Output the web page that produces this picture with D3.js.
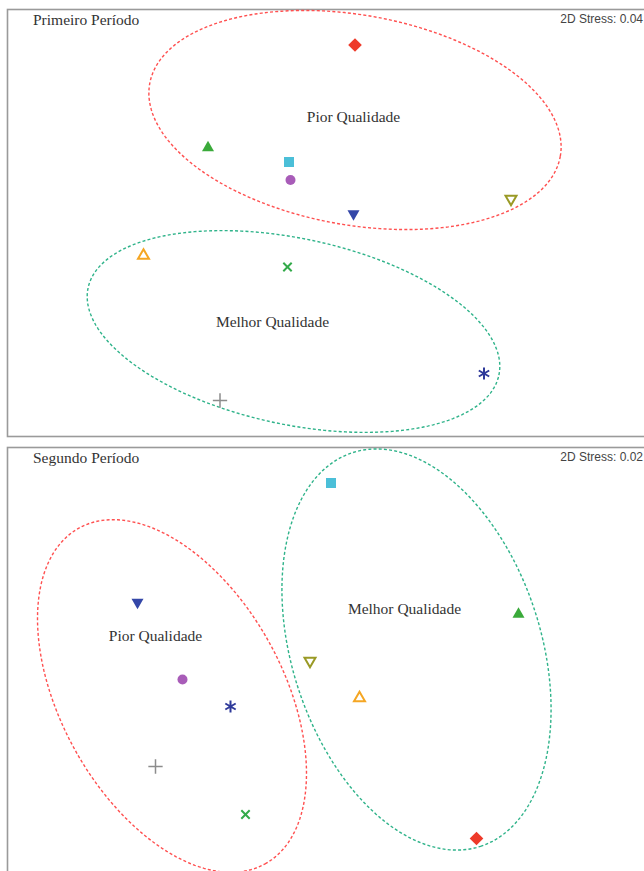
<!DOCTYPE html>
<html>
<head>
<meta charset="utf-8">
<script src="https://cdn.jsdelivr.net/npm/d3@7"></script>
<style>
  html, body { margin: 0; padding: 0; background: #fff; }
  svg { display: block; }
</style>
</head>
<body>
<svg id="chart" width="644" height="871"></svg>
<script>
// nMDS ordination of ten sampling sites, two periods
const markerShapes = ["diamond", "triangleUp", "square", "circle", "triangleDown",
                      "triangleDownOpen", "triangleUpOpen", "cross", "asterisk", "plus"];
const markerColors = ["#ee3a2a", "#3aaa3a", "#4bbfd8", "#a85cb8", "#3447a8",
                      "#9a9a26", "#f5a623", "#33aa4a", "#2f3a9a", "#8c8c8c"];

// MDS coordinates, first period
const period1X = [0.22, -0.76, -0.22, -0.21, 0.21, 1.26, -1.19, -0.23, 1.08, -0.68];
const period1Y = [1.18, 0.50, 0.40, 0.28, 0.05, 0.15, -0.22, -0.30, -1.01, -1.19];
// MDS coordinates, second period
const period2X = [1.03, 1.31, 0.06, -0.93, -1.23, -0.08, 0.25, -0.51, -0.61, -1.11];
const period2Y = [-1.19, 0.31, 1.18, -0.13, 0.38, -0.01, -0.25, -1.03, -0.31, -0.71];

const panelTitles = ["Primeiro Período", "Segundo Período"];
const stressLabels = ["2D Stress: 0.04", "2D Stress: 0.02"];

// Group ellipses: [Pior, Melhor]
const groupNames = ["Pior Qualidade", "Melhor Qualidade"];
const groupColors = ["#ff5050", "#2fb38a"];
const ellipse1CX = [0.22, -0.19], ellipse1CY = [0.68, -0.73];
const ellipse1RA = [1.39, 1.40], ellipse1RB = [0.70, 0.62], ellipse1Angle = [-10, -12];
const label1X = [0.21, -0.33], label1Y = [0.67, -0.70];
const ellipse2CX = [-1.00, 0.63], ellipse2CY = [-0.24, 0.07];
const ellipse2RA = [1.28, 1.38], ellipse2RB = [0.74, 0.83], ellipse2Angle = [-61, -72];
const label2X = [-1.11, 0.55], label2Y = [0.13, 0.31];

const svg = d3.select("#chart");

const panels = [
  { top: 9, bottom: 436, xs: period1X, ys: period1Y,
    ecx: ellipse1CX, ecy: ellipse1CY, ea: ellipse1RA, eb: ellipse1RB, eang: ellipse1Angle,
    lx: label1X, ly: label1Y },
  { top: 447, bottom: 900, xs: period2X, ys: period2Y,
    ecx: ellipse2CX, ecy: ellipse2CY, ea: ellipse2RA, eb: ellipse2RB, eang: ellipse2Angle,
    lx: label2X, ly: label2Y }
];
const yRanges = [[432, 12], [870, 450]];

const x = d3.scaleLinear().domain([-2, 2]).range([22, 622]);

function markerPath(shape, s) {
  const p = d3.path();
  const h = s * 0.866;
  switch (shape) {
    case "diamond":
      p.moveTo(0, -s * 0.62); p.lineTo(s * 0.62, 0); p.lineTo(0, s * 0.62); p.lineTo(-s * 0.62, 0); p.closePath(); break;
    case "square":
      p.rect(-s / 2, -s / 2, s, s); break;
    case "circle":
      p.arc(0, 0, s / 2, 0, 2 * Math.PI); break;
    case "triangleUp": case "triangleUpOpen":
      p.moveTo(0, -h * 0.6); p.lineTo(s / 2, h * 0.4); p.lineTo(-s / 2, h * 0.4); p.closePath(); break;
    case "triangleDown": case "triangleDownOpen":
      p.moveTo(0, h * 0.6); p.lineTo(s / 2, -h * 0.4); p.lineTo(-s / 2, -h * 0.4); p.closePath(); break;
    case "cross": {
      const r = s * 0.38;
      p.moveTo(-r, -r); p.lineTo(r, r); p.moveTo(r, -r); p.lineTo(-r, r); break;
    }
    case "plus": {
      const r = s * 0.55;
      p.moveTo(-r, 0); p.lineTo(r, 0); p.moveTo(0, -r); p.lineTo(0, r); break;
    }
    case "asterisk": {
      const r = s * 0.5;
      for (let k = 0; k < 3; k++) {
        const a = Math.PI / 2 + k * Math.PI / 3;
        p.moveTo(-r * Math.cos(a), -r * Math.sin(a)); p.lineTo(r * Math.cos(a), r * Math.sin(a));
      }
      break;
    }
  }
  return p.toString();
}
const markerSize = { diamond: 11, square: 10, circle: 10, triangleUp: 12, triangleUpOpen: 11,
                     triangleDown: 12, triangleDownOpen: 11, cross: 11, plus: 13, asterisk: 12 };
const isStroked = s => ["triangleUpOpen", "triangleDownOpen", "cross", "plus", "asterisk"].includes(s);

panels.forEach((pn, pi) => {
  const y = d3.scaleLinear().domain([-1.4, 1.4]).range(yRanges[pi]);
  const g = svg.append("g");

  // panel frame
  g.append("rect")
    .attr("x", 7.5).attr("y", pn.top + 0.5)
    .attr("width", 700).attr("height", pn.bottom - pn.top)
    .attr("fill", "none").attr("stroke", "#9a9a9a").attr("stroke-width", 1.6);

  g.append("text")
    .attr("x", 33).attr("y", pn.top + 16)
    .attr("font-family", "'Liberation Serif', 'Times New Roman', serif")
    .attr("font-size", 15.5).attr("fill", "#333")
    .text(panelTitles[pi]);

  g.append("text")
    .attr("x", 643).attr("y", pn.top + 14)
    .attr("text-anchor", "end")
    .attr("font-family", "'Liberation Sans', Arial, sans-serif")
    .attr("font-size", 12).attr("fill", "#444")
    .text(stressLabels[pi]);

  // group ellipses
  const line = d3.line().x(d => x(d[0])).y(d => y(d[1])).curve(d3.curveLinearClosed);
  groupNames.forEach((name, gi) => {
    const phi = pn.eang[gi] * Math.PI / 180;
    const pts = d3.range(0, 2 * Math.PI, Math.PI / 90).map(t => {
      const ca = pn.ea[gi] * Math.cos(t), sb = pn.eb[gi] * Math.sin(t);
      return [pn.ecx[gi] + ca * Math.cos(phi) - sb * Math.sin(phi),
              pn.ecy[gi] + ca * Math.sin(phi) + sb * Math.cos(phi)];
    });
    g.append("path")
      .attr("d", line(pts))
      .attr("fill", "none")
      .attr("stroke", groupColors[gi])
      .attr("stroke-width", 1.4)
      .attr("stroke-dasharray", "3,2.2");

    g.append("text")
      .attr("x", x(pn.lx[gi])).attr("y", y(pn.ly[gi]))
      .attr("text-anchor", "middle")
      .attr("font-family", "'Liberation Serif', 'Times New Roman', serif")
      .attr("font-size", 15.5).attr("fill", "#333")
      .text(name);
  });

  // site markers
  markerShapes.forEach((shape, i) => {
    const stroked = isStroked(shape);
    g.append("path")
      .attr("transform", `translate(${x(pn.xs[i])},${y(pn.ys[i])})`)
      .attr("d", markerPath(shape, markerSize[shape]))
      .attr("fill", stroked ? "none" : markerColors[i])
      .attr("stroke", stroked ? markerColors[i] : "none")
      .attr("stroke-width", shape === "plus" ? 1.5 : 2);
  });
});
</script>
</body>
</html>
